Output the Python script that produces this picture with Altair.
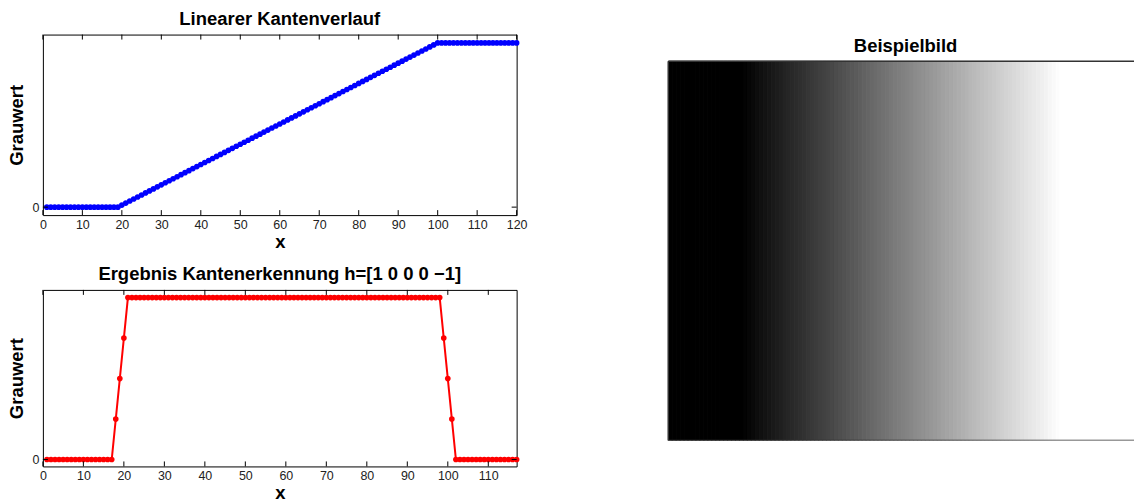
import altair as alt
import pandas as pd

FONT = "Liberation Sans"

# ---------------- data ----------------
# upper panel: linear edge profile (grey value per pixel position)
top_x = list(range(1, 121))
top_y = [0, 0, 0, 0, 0, 0, 0, 0, 0, 0, 0, 0, 0, 0, 0, 0, 0, 0, 0,
         1, 2, 3, 4, 5, 6, 7, 8, 9, 10, 11, 12, 13, 14, 15, 16, 17, 18, 19, 20,
         21, 22, 23, 24, 25, 26, 27, 28, 29, 30, 31, 32, 33, 34, 35, 36, 37, 38, 39, 40,
         41, 42, 43, 44, 45, 46, 47, 48, 49, 50, 51, 52, 53, 54, 55, 56, 57, 58, 59, 60,
         61, 62, 63, 64, 65, 66, 67, 68, 69, 70, 71, 72, 73, 74, 75, 76, 77, 78, 79, 80, 81,
         81, 81, 81, 81, 81, 81, 81, 81, 81, 81, 81, 81, 81, 81, 81, 81, 81, 81, 81, 81]

# lower panel: result of edge detection with h = [1 0 0 0 -1]
bot_x = list(range(1, 118))
bot_y = [0, 0, 0, 0, 0, 0, 0, 0, 0, 0, 0, 0, 0, 0, 0, 0, 0,
         1, 2, 3,
         4, 4, 4, 4, 4, 4, 4, 4, 4, 4, 4, 4, 4, 4, 4, 4, 4, 4, 4, 4,
         4, 4, 4, 4, 4, 4, 4, 4, 4, 4, 4, 4, 4, 4, 4, 4, 4, 4, 4, 4,
         4, 4, 4, 4, 4, 4, 4, 4, 4, 4, 4, 4, 4, 4, 4, 4, 4, 4, 4, 4,
         4, 4, 4, 4, 4, 4, 4, 4, 4, 4, 4, 4, 4, 4, 4, 4, 4, 4,
         3, 2, 1,
         0, 0, 0, 0, 0, 0, 0, 0, 0, 0, 0, 0, 0, 0, 0, 0]

top_xticks = [0, 10, 20, 30, 40, 50, 60, 70, 80, 90, 100, 110, 120]
bot_xticks = [0, 10, 20, 30, 40, 50, 60, 70, 80, 90, 100, 110]
yticks = [0]

image_rows = 96  # image height in pixels; every row repeats the top profile

TSIZE = 18.5   # bold titles
LSIZE = 12.5   # tick labels


def line_panel(xs, ys, color, title, xdom, ydom, xticks, W, H):
    df = pd.DataFrame({"x": xs, "y": ys})
    xenc = alt.X(
        "x:Q",
        scale=alt.Scale(domain=xdom, nice=False, zero=False),
        axis=alt.Axis(values=xticks, title="x", ticks=False, domain=False, grid=False,
                      labelPadding=3, labelFontSize=LSIZE, labelFont=FONT, labelColor="#222",
                      labelFlush=False, labelOverlap=False, labelBound=False,
                      titleFont=FONT, titleFontSize=TSIZE, titleFontWeight="bold",
                      titlePadding=2, titleColor="black"),
    )
    yenc = alt.Y(
        "y:Q",
        scale=alt.Scale(domain=ydom, nice=False, zero=False),
        axis=alt.Axis(values=yticks, title="Grauwert", ticks=False, domain=False, grid=False,
                      labelPadding=4, labelFontSize=LSIZE, labelFont=FONT, labelColor="#222",
                      titleFont=FONT, titleFontSize=TSIZE, titleFontWeight="bold",
                      titlePadding=5.5, titleColor="black"),
    )
    base = alt.Chart(df)
    line = base.mark_line(color=color, strokeWidth=2).encode(x=xenc, y=yenc)
    pts = base.mark_circle(color=color, size=32, opacity=1).encode(x=xenc, y=yenc)

    xt = alt.Chart(pd.DataFrame({"x": xticks}))
    tb = xt.mark_rule(color="black", strokeWidth=1).encode(x=xenc, y=alt.value(H), y2=alt.value(H - 5))
    tt = xt.mark_rule(color="black", strokeWidth=1).encode(x=xenc, y=alt.value(0), y2=alt.value(5))
    yt = alt.Chart(pd.DataFrame({"y": yticks}))
    tl = yt.mark_rule(color="black", strokeWidth=1).encode(y=yenc, x=alt.value(0), x2=alt.value(5))
    tr = yt.mark_rule(color="black", strokeWidth=1).encode(y=yenc, x=alt.value(W - 5), x2=alt.value(W))

    return alt.layer(
        line, pts, tb, tt, tl, tr,
        title=alt.Title(title, font=FONT, fontSize=TSIZE, fontWeight="bold", color="black",
                        anchor="middle", offset=6),
    ).properties(width=W, height=H)


top = line_panel(top_x, top_y, "#0000ff", "Linearer Kantenverlauf",
                 [0, 120], [-3.93, 85.1], top_xticks, 475, 181)
bot = line_panel(bot_x, bot_y, "#ff0000", "Ergebnis Kantenerkennung h=[1 0 0 0 \u22121]",
                 [0, 117], [-0.17, 4.19], bot_xticks, 475, 177)

# ---------------- image panel ----------------
img = pd.DataFrame({
    "col": top_x,
    "g": top_y,
})
img["x0"] = img["col"] - 0.5
img["x1"] = img["col"] + 0.5
img["y0"] = 0.5
img["y1"] = image_rows + 0.5

IW, IH = 467, 407
ixs = alt.Scale(domain=[0.5, 118.2], nice=False, zero=False)
iys = alt.Scale(domain=[0.5, image_rows + 0.5 + 6.75], nice=False, zero=False)
gscale = alt.Scale(domain=[0, 81], range=["#000000", "#ffffff"], interpolate="rgb")

rect = alt.Chart(img).mark_rect(clip=True, strokeWidth=1).encode(
    x=alt.X("x0:Q", scale=ixs, axis=None),
    x2="x1:Q",
    y=alt.Y("y0:Q", scale=iys, axis=None),
    y2="y1:Q",
    color=alt.Color("g:Q", scale=gscale, legend=None),
    stroke=alt.Stroke("g:Q", scale=gscale, legend=None),
)
edge = alt.Chart(pd.DataFrame({"a": [0]}))
top_edge = edge.mark_rule(color="#333", strokeWidth=1.5, clip=True).encode(
    x=alt.datum(0.5), x2=alt.datum(130.0), y=alt.datum(image_rows + 0.5))
bot_edge = edge.mark_rule(color="#333", strokeWidth=1.5, clip=True).encode(
    x=alt.datum(0.5), x2=alt.datum(130.0), y=alt.datum(0.5))
left_edge = edge.mark_rule(color="#333", strokeWidth=1.5).encode(
    x=alt.datum(0.5), y=alt.datum(0.5), y2=alt.datum(image_rows + 0.5))

image = alt.layer(
    rect, top_edge, bot_edge, left_edge,
    title=alt.Title("Beispielbild", font=FONT, fontSize=TSIZE, fontWeight="bold", color="black",
                    anchor="middle", offset=6, dy=26.7, dx=4.5),
).properties(width=IW, height=IH, view=alt.ViewBackground(stroke=None))

left = alt.vconcat(top, bot, spacing=75, bounds="flush")
chart = alt.hconcat(left, image, spacing=140).properties(
    padding={"left": 7, "top": 8, "right": 0, "bottom": 0},
    background="white",
).configure_view(stroke="black", strokeWidth=1)

chart.save("out.html", embed_options={"renderer": "svg", "actions": False})
